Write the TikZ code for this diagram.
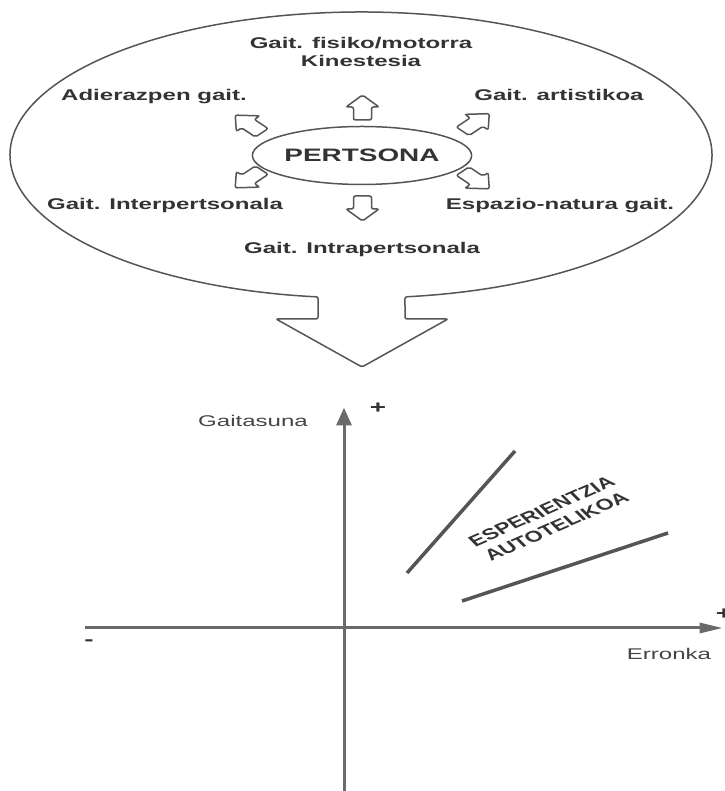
\documentclass[tikz,border=0pt]{standalone}
\usepackage{fontspec}
\setmainfont{Liberation Sans}
\usepackage{graphicx}
\usetikzlibrary{shapes.geometric}
\definecolor{textdark}{HTML}{333333}
\definecolor{textmid}{HTML}{444444}
\definecolor{linegray}{HTML}{555555}
\definecolor{axisgray}{HTML}{6A6A6A}
\newcommand{\sx}[1]{\scalebox{1.55}[1]{#1}}
\newcommand{\blockarrow}[3]{%
  \begin{scope}[shift={(#1,#2)}, xscale=1.5]
    \draw[outline, rounded corners=2pt, rotate=#3]
      (-12.5,-6) -- (0.5,-6) -- (0.5,-11) -- (12.5,0) -- (0.5,11) -- (0.5,6) -- (-12.5,6) -- cycle;
  \end{scope}}
\tikzset{
  lbl/.style={font=\fontsize{15.5}{18}\selectfont\bfseries, text=textdark, inner sep=0pt, anchor=base},
  axlbl/.style={font=\fontsize{15.5}{18}\selectfont, text=textmid, inner sep=0pt, anchor=base},
  sign/.style={font=\fontsize{18}{20}\selectfont\bfseries, text=textdark, inner sep=0pt},
  outline/.style={draw=linegray, line width=1.5pt},
  axisline/.style={draw=axisgray, line width=3pt},
  flowline/.style={draw=linegray, line width=3.5pt},
}
\begin{document}
\begin{tikzpicture}[x=1pt, y=1pt]
\useasboundingbox (0,0) rectangle (724,791);

% big speech-bubble ellipse with arrow
\coordinate (bc) at (361,636);
\draw[outline, rounded corners=2pt] (bc) ++(-82.8:351 and 143)
  arc[start angle=-82.8, end angle=263, x radius=351, y radius=143]
  -- (318,472) -- (276,472) -- (362,424) -- (448,472) -- (405,472) -- cycle;

% central ellipse
\node[outline, ellipse, minimum width=198pt, minimum height=58pt, inner sep=0pt,
      font=\fontsize{18}{20}\selectfont\bfseries, text=textdark] (p) at (362,635.5) {\sx{PERTSONA}};

% small block arrows
\blockarrow{362.5}{683.5}{90}
\blockarrow{362.5}{582.5}{-90}
\blockarrow{248.5}{667}{135}
\blockarrow{476}{668.5}{45}
\blockarrow{248.5}{612}{-135}
\blockarrow{476}{611}{-45}

% labels
\node[lbl] (fis) at (361,742) {\sx{Gait. fisiko/motorra}};
\node[lbl] (kin) at (361,724) {\sx{Kinestesia}};
\node[lbl] (adi) at (154,690) {\sx{Adierazpen gait.}};
\node[lbl] (art) at (559,690) {\sx{Gait. artistikoa}};
\node[lbl] (inter) at (165,581) {\sx{Gait. Interpertsonala}};
\node[lbl] (esp) at (560,581) {\sx{Espazio-natura gait.}};
\node[lbl] (intra) at (362,537) {\sx{Gait. Intrapertsonala}};

% axes
\coordinate (ybot) at (344,0);
\coordinate (ybase) at (344,366);
\coordinate (ytop) at (344,383);
\coordinate (xleft) at (85,163);
\coordinate (xbase) at (700,163);
\coordinate (xright) at (722,163);
\draw[axisline] (ybot) -- (ybase);
\fill[axisgray] (ytop) -- ++(-8,-17.5) -- ++(16,0) -- cycle;
\draw[axisline] (xleft) -- (xbase);
\fill[axisgray] (xright) -- ++(-22.5,5.5) -- ++(0,-11) -- cycle;

\node[axlbl] (gai) at (253,364) {\sx{Gaitasuna}};
\node[axlbl] (err) at (669,131) {\sx{Erronka}};
\node[sign] (pt) at (378,383) {\sx{+}};
\node[sign] (pr) at (724,177) {\sx{+}};
\node[sign] (mn) at (89,148) {\sx{-}};

% flow channel lines
\coordinate (a1) at (407,218);
\coordinate (a2) at (515,340);
\coordinate (b1) at (462,190);
\coordinate (b2) at (668,258);
\draw[flowline] (a1) -- (a2);
\draw[flowline] (b1) -- (b2);

\begin{scope}[shift={(549,272)}, xscale=1.5]
  \node[rotate=33.5, transform shape, align=center, inner sep=0pt,
        font=\fontsize{15.5}{18}\selectfont\bfseries, text=textdark] (exp) at (0,0)
        {ESPERIENTZIA\\AUTOTELIKOA};
\end{scope}
\end{tikzpicture}
\end{document}
